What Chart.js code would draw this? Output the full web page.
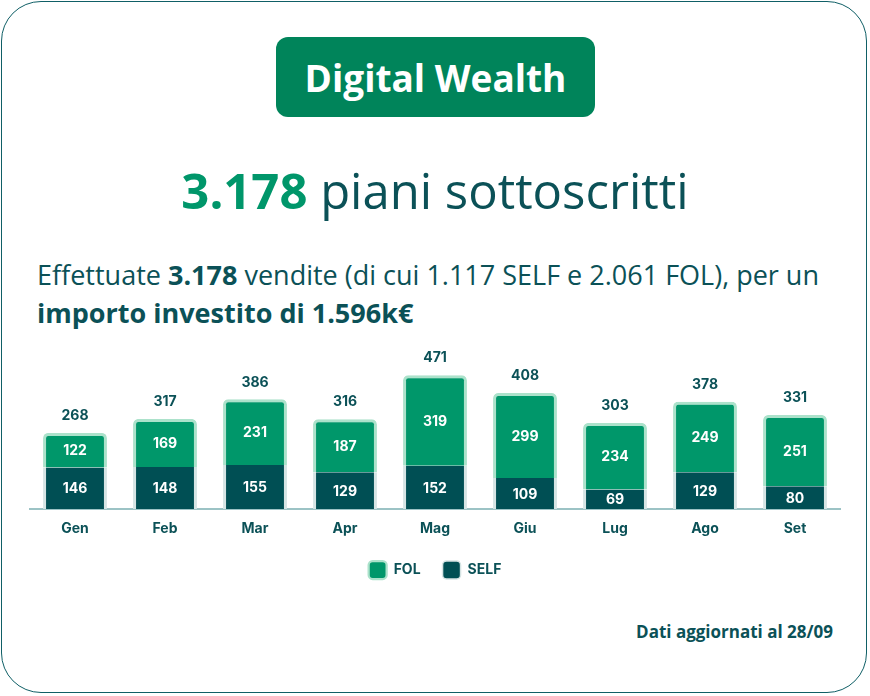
<!DOCTYPE html>
<html>
<head>
<meta charset="utf-8">
<script src="https://cdn.jsdelivr.net/npm/chart.js@4.4.1/dist/chart.umd.min.js"></script>
<style>
  html, body { margin: 0; padding: 0; background: #ffffff; }
  body { width: 870px; height: 696px; position: relative; overflow: hidden; font-family: "Open Sans", sans-serif; color: #0b5157; }
  .card { position: absolute; left: 1px; top: 1px; width: 866px; height: 692px; border: 1.5px solid #0f5f66; border-radius: 40px; box-sizing: border-box; }
  .badge { position: absolute; left: 276px; top: 37px; width: 319px; height: 80px; background: #00845a; border-radius: 12px; color: #fff; font-weight: 700; font-size: 37px; line-height: 82px; text-align: center; }
  .headline { position: absolute; left: 0; width: 870px; top: 160px; text-align: center; font-size: 49px; line-height: 60px; color: #0b5157; }
  .headline b { color: #00966a; font-weight: 700; }
  .para { position: absolute; left: 37px; top: 256px; width: 830px; font-size: 27px; line-height: 38px; color: #0b5157; white-space: nowrap; }
  .para b { font-weight: 700; }
  .note { position: absolute; right: 37px; top: 620px; font-size: 17px; line-height: 24px; font-weight: 700; color: #0b5157; }
  #wrap { position: absolute; left: 0; top: 330px; width: 870px; height: 259px; }
</style>
</head>
<body>
<div class="card"></div>
<div class="badge">Digital Wealth</div>
<div class="headline"><b>3.178</b> piani sottoscritti</div>
<div class="para">Effettuate <b>3.178</b> vendite (di cui 1.117 SELF e 2.061 FOL), per un<br><b>importo investito di 1.596k€</b></div>
<div id="wrap"><canvas id="c"></canvas></div>
<div class="note">Dati aggiornati al 28/09</div>
<script>
const months = ["Gen", "Feb", "Mar", "Apr", "Mag", "Giu", "Lug", "Ago", "Set"];
const selfValues = [146, 148, 155, 129, 152, 109, 69, 129, 80];
const folValues = [122, 169, 231, 187, 319, 299, 234, 249, 251];
const totals = [268, 317, 386, 316, 471, 408, 303, 378, 331];

const textColor = "#0b5157";
const labelFont = "bold 14px Inter, 'Noto Sans', sans-serif";

const labelPlugin = {
  id: "barLabels",
  afterDatasetsDraw(chart) {
    const ctx = chart.ctx;
    ctx.save();
    ctx.font = labelFont;
    ctx.textAlign = "center";
    ctx.textBaseline = "middle";
    chart.data.datasets.forEach((ds, di) => {
      const meta = chart.getDatasetMeta(di);
      meta.data.forEach((el, i) => {
        const p = el.getProps(["x", "y", "base"], true);
        ctx.fillStyle = "#ffffff";
        ctx.fillText(String(ds.data[i]), p.x, (p.y + p.base) / 2 + 1);
      });
    });
    const topMeta = chart.getDatasetMeta(1);
    topMeta.data.forEach((el, i) => {
      const p = el.getProps(["x", "y"], true);
      ctx.fillStyle = textColor;
      ctx.fillText(String(totals[i]), p.x, p.y - 17);
    });
    ctx.restore();
  }
};

new Chart(document.getElementById("c"), {
  type: "bar",
  data: {
    labels: months,
    datasets: [
      {
        label: "SELF",
        data: selfValues,
        backgroundColor: "#004f54",
        borderColor: "#d6e4e4",
        borderWidth: { left: 3, right: 3, top: 0, bottom: 0 },
        borderSkipped: false,
        borderRadius: 0
      },
      {
        label: "FOL",
        data: folValues,
        backgroundColor: "#00976a",
        borderColor: "#ace2cb",
        borderWidth: { left: 3, right: 3, top: 3, bottom: 0 },
        borderSkipped: "bottom",
        borderRadius: { topLeft: 5, topRight: 5, bottomLeft: 0, bottomRight: 0 }
      }
    ]
  },
  options: {
    responsive: true,
    maintainAspectRatio: false,
    animation: false,
    layout: { padding: { left: 30, right: 30, top: 12, bottom: 0 } },
    datasets: { bar: { barPercentage: 0.71, categoryPercentage: 1 } },
    scales: {
      x: {
        stacked: true,
        grid: { display: false, drawTicks: false },
        border: { display: true, color: "#9cc3c5", width: 2 },
        ticks: { color: textColor, font: { family: "Inter, 'Noto Sans', sans-serif", weight: "bold", size: 14 }, padding: 11 },
        afterFit(scale) { scale.height = 30; }
      },
      y: {
        stacked: true,
        display: false,
        min: 0,
        max: 588
      }
    },
    plugins: {
      legend: {
        position: "bottom",
        reverse: true,
        labels: {
          color: textColor,
          font: { family: "Inter, 'Noto Sans', sans-serif", weight: "bold", size: 14 },
          boxWidth: 18,
          boxHeight: 18,
          useBorderRadius: true,
          borderRadius: 4,
          padding: 22
        }
      },
      tooltip: { enabled: false }
    }
  },
  plugins: [labelPlugin]
});
</script>
</body>
</html>
